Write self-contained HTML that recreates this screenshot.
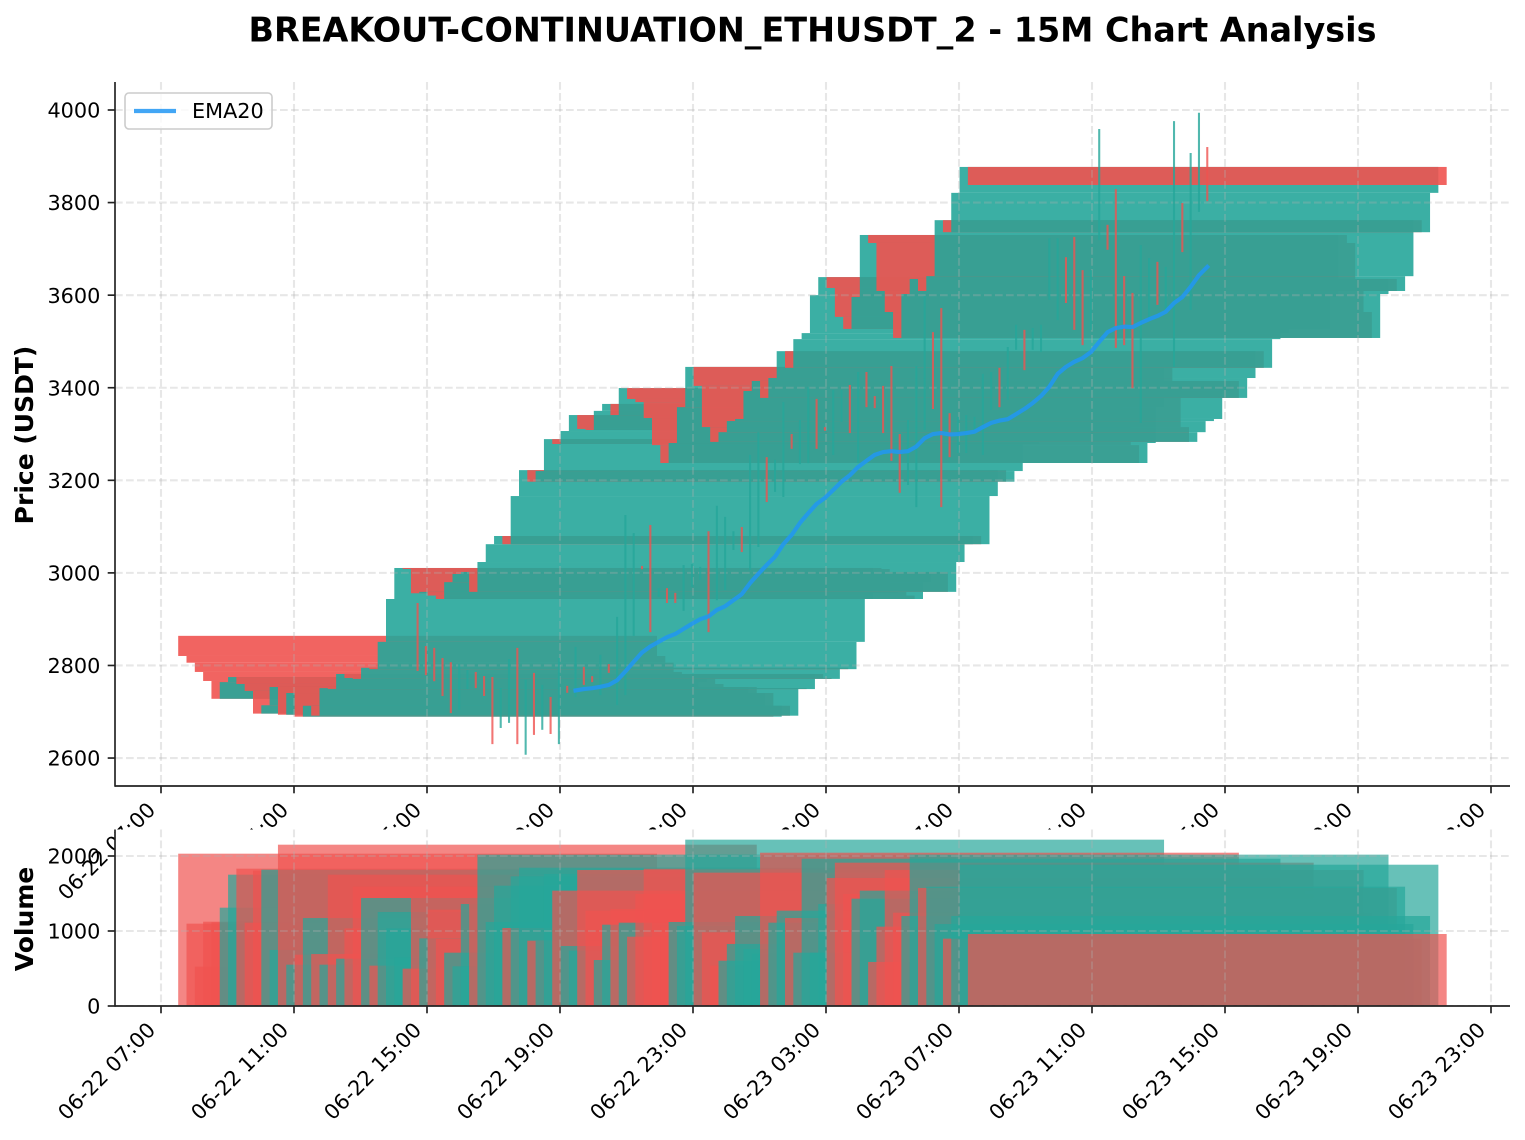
<!DOCTYPE html>
<html lang="en">
<head>
<meta charset="utf-8">
<title>BREAKOUT-CONTINUATION_ETHUSDT_2 - 15M Chart Analysis</title>
<style>
html,body{margin:0;padding:0;background:#fff;}
svg{display:block;font-family:"DejaVu Sans","Liberation Sans",sans-serif;}
</style>
</head>
<body>
<svg id="chart" xmlns="http://www.w3.org/2000/svg" width="1525" height="1140" viewBox="0 0 1525 1140">
<rect x="0" y="0" width="1525" height="1140" fill="#ffffff"/>
<text x="812.5" y="41.5" text-anchor="middle" font-size="33.4" font-weight="bold" fill="#000">BREAKOUT-CONTINUATION_ETHUSDT_2 - 15M Chart Analysis</text>
<defs>
<clipPath id="priceClip"><rect x="115" y="82" width="1395" height="704"/></clipPath>
<clipPath id="volClip"><rect x="115" y="829.5" width="1395" height="176.5"/></clipPath>
</defs>
<g id="priceAxes"></g>
<g id="volAxes"></g>
<g id="legend">
<rect x="125" y="93" width="147" height="36" rx="4" ry="4" fill="#ffffff" fill-opacity="0.8" stroke="#cccccc" stroke-width="1.6"/>
<line x1="134" y1="111" x2="176" y2="111" stroke="#2196f3" stroke-opacity="0.85" stroke-width="4.2"/>
<text x="192" y="118" font-size="20.8" fill="#000">EMA20</text>
</g>
<text transform="translate(33,435) rotate(-90)" text-anchor="middle" font-size="25" font-weight="bold" fill="#000">Price (USDT)</text>
<text transform="translate(33,919) rotate(-90)" text-anchor="middle" font-size="25" font-weight="bold" fill="#000">Volume</text>
</svg>
<script>
const startHours = 7.717;
const stepHours = 0.25;
const bodyWidthHours = 14.4;
const opens = [2864,2820.5,2806,2786,2766.5,2728,2764,2775,2760,2745,2696,2714,2753.5,2693.6,2740.5,2689.4,2713,2691.5,2751,2749,2781.6,2773,2771,2795,2792,2851,2943.6,3010.6,3008.4,2956,2959,2951,2943.6,2980,2997.6,3002,2959,3023.5,3062,3079.7,3062,3166,3222,3197,3220,3289,3278.5,3306.5,3341,3311,3308.7,3350,3365,3341,3399.4,3375.7,3369,3334.6,3276,3237.4,3280.6,3358,3445,3404,3315,3283,3304,3328,3332.5,3393,3414.6,3378,3421,3479,3443,3505,3518,3600,3639,3615.5,3553,3527,3596,3730,3712.7,3609,3563.6,3507.5,3602.5,3635,3609,3641,3762,3736,3821,3877];
const closes = [2820.5,2806,2786,2766.5,2728,2764,2775,2760,2745,2696,2714,2753.5,2693.6,2740.5,2689.4,2713,2691.5,2751,2749,2781.6,2773,2771,2795,2792,2851,2943.6,3010.6,3008.4,2956,2959,2951,2943.6,2980,2997.6,3002,2959,3023.5,3062,3079.7,3062,3166,3222,3197,3220,3289,3278.5,3306.5,3341,3311,3308.7,3350,3365,3341,3399.4,3375.7,3369,3334.6,3276,3237.4,3280.6,3358,3445,3404,3315,3283,3304,3328,3332.5,3393,3414.6,3378,3421,3479,3443,3505,3518,3600,3639,3615.5,3553,3527,3596,3730,3712.7,3609,3563.6,3507.5,3602.5,3635,3609,3641,3762,3736,3821,3877,3838];
const highs = [2935,2842,2838,2816,2807,2803,2790,2786,2777,2775,2751,2814,2838,2769,2784,2758,2732,2816,2756,2840,2797,2777,2823,2803,2905,3125,3086,3015,3103.5,2967,2967,2957,3017,3019,3013,3090,3145,3121,3090,3099,3255,3304,3250,3244,3369,3300,3330,3402,3376,3315,3395,3395,3406,3434,3434,3382,3404,3447,3300,3330,3447,3598,3520,3572,3345,3337,3341,3337,3430,3434,3443,3488,3536,3525,3529,3536,3723,3723,3682,3726,3654,3654,3959,3752,3829,3641,3605,3708,3680,3672,3661,3976,3799,3907,3994,3920];
const lows = [2788,2779,2766,2734,2697,2704,2749,2751,2734,2630,2665,2676,2630,2607,2650,2661,2652,2630,2741,2732,2758,2764,2736,2784,2715,2736,2864,3008,2872,2948,2935,2935,2918,2970,2985,2872,2941,2963,3049.5,3045,3006,3056,3153,3175,3164,3268,3235,3237,3268,3307,3255,3326,3302,3237,3358,3356,3302,3242,3173,3190,3142,3309,3354,3142,3250,3259,3259,3302,3255,3352,3358,3374,3482,3438,3482,3477,3590,3546,3583,3525,3492,3525,3719,3698,3486,3492,3399,3324,3546,3579,3568,3445,3693,3568,3780,3803];
const volumes = [2031,1098,524,1124,1115,1311,1751,1831,1111,1804,1818,747,2151,551,684,1173,693,551,1751,631,1035,1591,1440,538,1253,1035,649,498,1440,902,1284,893,711,529,1360,1360,2018,1120,1604,1040,1729,1844,871,871,1760,1538,800,738,1813,1271,613,1084,1293,1111,924,1493,1831,1200,1050,1120,1067,2218,1778,982,538,604,827,1200,760,700,2044,1111,1271,1173,711,1964,711,1360,1707,1911,1493,1431,1538,587,1058,1813,1244,1200,2018,1573,1591,1093,898,1200,1884,960];
const emaStartIndex = 19;
const ema20 = [2746,2749,2751,2754,2758,2768,2787,2808,2828,2841,2851,2861,2868,2879,2890,2900,2906,2920,2928,2941,2954,2978,2998,3017,3035,3062,3082,3108,3129,3149,3162,3179,3197,3211,3229,3242,3255,3261,3263,3261,3263,3273,3291,3300,3302,3299,3300,3302,3305,3315,3324,3329,3332,3343,3354,3367,3382,3402,3430,3445,3456,3464,3477,3499,3520,3529,3532,3531,3540,3548,3555,3564,3583,3596,3618,3643,3661];
const priceTicks = [2600,2800,3000,3200,3400,3600,3800,4000];
const volumeTicks = [0,1000,2000];
const timeTickHours = [0,4,8,12,16,20,24,28,32,36,40];
const timeTickLabels = ["06-22 07:00","06-22 11:00","06-22 15:00","06-22 19:00","06-22 23:00","06-23 03:00","06-23 07:00","06-23 11:00","06-23 15:00","06-23 19:00","06-23 23:00"];

const SVG_NS = "http://www.w3.org/2000/svg";
const UP = "#26a69a", DOWN = "#ef5350", INK = "#222222", GRID = "#b0b0b0";
const AX_L = 115, AX_R = 1510, PRICE_TOP = 82, PRICE_BOT = 786, VOL_TOP = 829.5, VOL_BOT = 1006;
function xOf(h){ return 161 + 33.25 * h; }
function yPrice(p){ return 110 + (4000 - p) * 0.46289; }
function yVol(v){ return 1006 - v * 0.075; }
function make(tag, attrs, parent){
  const el = document.createElementNS(SVG_NS, tag);
  for (const k in attrs) el.setAttribute(k, attrs[k]);
  parent.appendChild(el);
  return el;
}
const priceAxes = document.getElementById("priceAxes");
const volAxes = document.getElementById("volAxes");

/* ---------- price panel ---------- */
const priceBars = make("g", {"clip-path":"url(#priceClip)"}, priceAxes);


opens.forEach(function(o, i){
  const c = closes[i];
  const t = startHours + i * stepHours;
  const top = yPrice(Math.max(o, c)), bot = yPrice(Math.min(o, c));
  const el = make("rect", {x:xOf(t - bodyWidthHours/2), y:top, width:xOf(bodyWidthHours)-xOf(0), height:Math.max(bot-top,0.3), fill:c>=o?UP:DOWN, "fill-opacity":0.9}, priceBars);
  
  
});
const priceGrid = make("g", {"clip-path":"url(#priceClip)"}, priceAxes);


priceTicks.forEach(function(p){
  const el = make("line", {x1:AX_L, x2:AX_R, y1:yPrice(p), y2:yPrice(p), stroke:GRID, "stroke-opacity":0.3, "stroke-width":2.08, "stroke-dasharray":"7.7 3.3"}, priceGrid);
  
  
});
timeTickHours.forEach(function(h){
  const el = make("line", {x1:xOf(h), x2:xOf(h), y1:PRICE_TOP, y2:PRICE_BOT, stroke:GRID, "stroke-opacity":0.3, "stroke-width":2.08, "stroke-dasharray":"7.7 3.3"}, priceGrid);
  
  
});
const wicks = make("g", {"clip-path":"url(#priceClip)"}, priceAxes);


highs.forEach(function(hi, i){
  const t = startHours + i * stepHours;
  const el = make("line", {x1:xOf(t), x2:xOf(t), y1:yPrice(hi), y2:yPrice(lows[i]), stroke:closes[i]>=opens[i]?UP:DOWN, "stroke-opacity":0.8, "stroke-width":2.08}, wicks);
  
  
});
const emaPts = ema20.map(function(v, k){
  const t = startHours + (emaStartIndex + k) * stepHours;
  return xOf(t).toFixed(2) + "," + yPrice(v).toFixed(2);
}).join(" ");
const emaLine = make("polyline", {points:emaPts, fill:"none", stroke:"#2196f3", "stroke-opacity":0.85, "stroke-width":4.17, "stroke-linejoin":"round", "stroke-linecap":"square"}, priceAxes);



priceTicks.forEach(function(p, i){
  const y = yPrice(p);
  const tk = make("line", {x1:AX_L-7.3, x2:AX_L, y1:y, y2:y, stroke:INK, "stroke-width":1.67}, priceAxes);
  
  
  const lb = make("text", {x:AX_L-14.6, y:y+7.6, "text-anchor":"end", "font-size":20.8, fill:"#000"}, priceAxes);
  
  
  lb.textContent = String(p);
});
timeTickHours.forEach(function(h, i){
  const x = xOf(h);
  const tk = make("line", {x1:x, x2:x, y1:PRICE_BOT, y2:PRICE_BOT+7.3, stroke:INK, "stroke-width":1.67}, priceAxes);
  
  
  const lb = make("text", {transform:"translate("+(x-4.4)+","+(PRICE_BOT+25.3)+") rotate(-45)", "text-anchor":"end", "font-size":20.8, fill:"#000"}, priceAxes);
  
  
  lb.textContent = timeTickLabels[i];
});
const spineL = make("line", {x1:AX_L, x2:AX_L, y1:PRICE_TOP, y2:PRICE_BOT+0.8, stroke:INK, "stroke-width":1.67}, priceAxes);


const spineB = make("line", {x1:AX_L, x2:AX_R, y1:PRICE_BOT, y2:PRICE_BOT, stroke:INK, "stroke-width":1.67}, priceAxes);



/* ---------- volume panel ---------- */
const volBg = make("rect", {x:AX_L, y:VOL_TOP, width:AX_R-AX_L, height:VOL_BOT-VOL_TOP, fill:"#ffffff"}, volAxes);


const volBars = make("g", {"clip-path":"url(#volClip)"}, volAxes);


volumes.forEach(function(v, i){
  const t = startHours + i * stepHours;
  const el = make("rect", {x:xOf(t - bodyWidthHours/2), y:yVol(v), width:xOf(bodyWidthHours)-xOf(0), height:yVol(0)-yVol(v), fill:closes[i]>=opens[i]?UP:DOWN, "fill-opacity":0.7}, volBars);
  
  
});
const volGrid = make("g", {"clip-path":"url(#volClip)"}, volAxes);


volumeTicks.forEach(function(v){
  const el = make("line", {x1:AX_L, x2:AX_R, y1:yVol(v), y2:yVol(v), stroke:GRID, "stroke-opacity":0.3, "stroke-width":2.08, "stroke-dasharray":"7.7 3.3"}, volGrid);
  
  
});
timeTickHours.forEach(function(h){
  const el = make("line", {x1:xOf(h), x2:xOf(h), y1:VOL_TOP, y2:VOL_BOT, stroke:GRID, "stroke-opacity":0.3, "stroke-width":2.08, "stroke-dasharray":"7.7 3.3"}, volGrid);
  
  
});
volumeTicks.forEach(function(v){
  const y = yVol(v);
  const tk = make("line", {x1:AX_L-7.3, x2:AX_L, y1:y, y2:y, stroke:INK, "stroke-width":1.67}, volAxes);
  
  
  const lb = make("text", {x:AX_L-14.6, y:y+7.6, "text-anchor":"end", "font-size":20.8, fill:"#000"}, volAxes);
  
  
  lb.textContent = String(v);
});
timeTickHours.forEach(function(h, i){
  const x = xOf(h);
  const tk = make("line", {x1:x, x2:x, y1:VOL_BOT, y2:VOL_BOT+7.3, stroke:INK, "stroke-width":1.67}, volAxes);
  
  
  const lb = make("text", {transform:"translate("+(x-4.4)+","+(VOL_BOT+25.3)+") rotate(-45)", "text-anchor":"end", "font-size":20.8, fill:"#000"}, volAxes);
  
  
  lb.textContent = timeTickLabels[i];
});
const vSpineL = make("line", {x1:AX_L, x2:AX_L, y1:VOL_TOP, y2:VOL_BOT+0.8, stroke:INK, "stroke-width":1.67}, volAxes);


const vSpineB = make("line", {x1:AX_L, x2:AX_R, y1:VOL_BOT, y2:VOL_BOT, stroke:INK, "stroke-width":1.67}, volAxes);


</script>
</body>
</html>
